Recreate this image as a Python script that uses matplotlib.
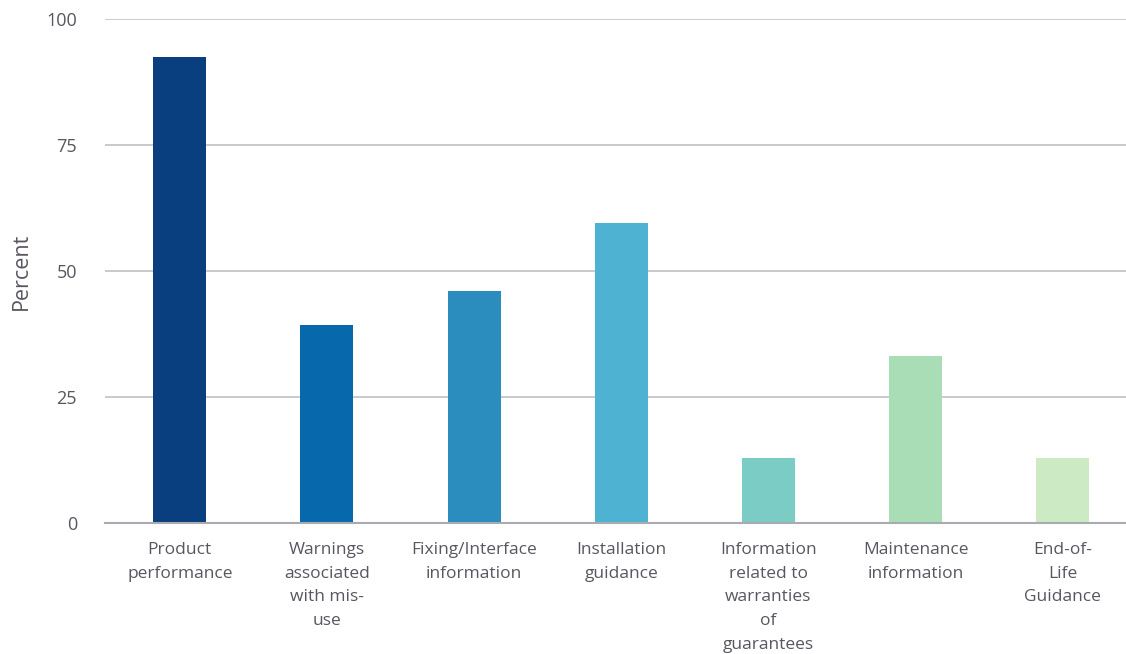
import matplotlib.pyplot as plt
import numpy as np

plt.rcParams['font.family'] = ['Open Sans', 'DejaVu Sans']

# information types and share of respondents (percent)
categories = ["Product\nperformance",
              "Warnings\nassociated\nwith mis-\nuse",
              "Fixing/Interface\ninformation",
              "Installation\nguidance",
              "Information\nrelated to\nwarranties\nof\nguarantees",
              "Maintenance\ninformation",
              "End-of-\nLife\nGuidance"]
values = [92.5, 39.3, 46.0, 59.6, 12.8, 33.0, 12.8]
colors = ["#0a3f7f", "#0868ac", "#2b8cbe", "#4eb3d3", "#7bccc4", "#a8ddb5", "#ccebc5"]
yticks = [0, 25, 50, 75, 100]

fig = plt.figure(figsize=(11.26, 6.54), dpi=100)
ax = fig.add_axes([0.093, 0.2008, 0.907, 0.770])

x = np.arange(len(categories))
ax.bar(x, values, width=0.36, color=colors, zorder=3)

ax.set_xlim(-0.51, 6.43)
ax.set_ylim(0, 100)
ax.set_yticks(yticks)
ax.set_xticks(x)
ax.set_xticklabels(categories, linespacing=1.64, fontsize=12.5, color="#5a5560")
ax.tick_params(axis='x', length=0, pad=14)
ax.tick_params(axis='y', length=0, pad=20, labelsize=13, labelcolor="#5a5560")

ax.grid(axis='y', color="#c4c6cc", linewidth=1.3, zorder=0)
for s in ['top', 'right', 'left']:
    ax.spines[s].set_visible(False)
ax.spines['bottom'].set_color("#a9abb0")
ax.spines['bottom'].set_linewidth(1.5)
ax.spines['bottom'].set_zorder(4)

ax.set_ylabel("Percent", fontsize=15.5, color="#5a5560", labelpad=10)

fig.savefig("out.png", dpi=100)
